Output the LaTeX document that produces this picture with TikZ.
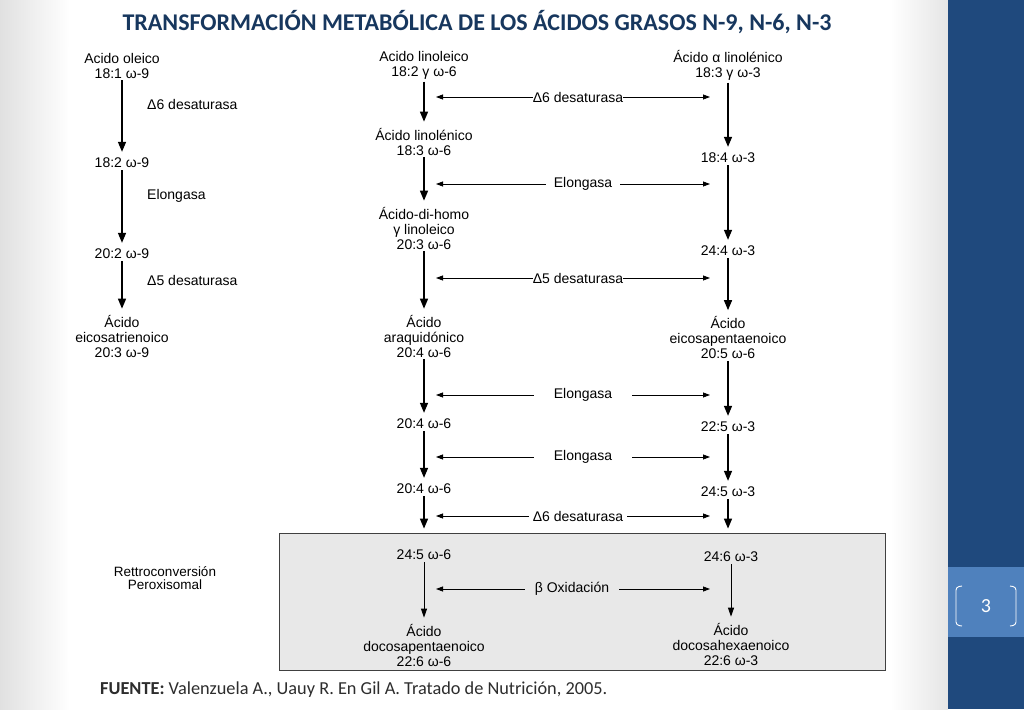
\documentclass[tikz,border=0pt]{standalone}
\usepackage{fontspec}
\setmainfont{Liberation Sans}
\newfontfamily\slidefont{Carlito}
\usetikzlibrary{arrows.meta}
\definecolor{titulo}{RGB}{23,55,94}
\definecolor{barra}{RGB}{31,73,125}
\definecolor{numbox}{RGB}{79,129,189}
\definecolor{caja}{RGB}{232,232,232}
\definecolor{pie}{RGB}{45,45,45}
\tikzstyle{tx}=[inner sep=2pt, align=center, font=\fontsize{14}{15}\selectfont]
\tikzstyle{enz}=[inner ysep=1pt, inner xsep=0pt, fill=white, font=\fontsize{14}{15}\selectfont]
\tikzstyle{fl}=[line width=1.4pt, shorten >=4pt, -{Triangle[length=10pt,width=8pt]}]
\tikzstyle{fli}=[line width=0.9pt, shorten >=4pt, -{Triangle[length=9pt,width=6pt]}]
\tikzstyle{dfl}=[line width=0.8pt, -{Triangle[length=7pt,width=5pt]}]

\begin{document}
\begin{tikzpicture}[x=1pt,y=-1pt]
\useasboundingbox (0,0) rectangle (1024,709);
\fill[white] (0,0) rectangle (1024,709);
\shade[left color=black!12, right color=white] (0,0) rectangle (70,709);
\shade[left color=white, right color=black!10] (890,0) rectangle (948,709);
\fill[white] (68,47) rectangle (890,672);
\fill[barra] (948,0) rectangle (1024,709);
\fill[numbox] (948,567) rectangle (1024,637);
\draw[white, line width=0.9pt, rounded corners=3pt] (962,586)--(956,587)--(956,625)--(962,626);
\draw[white, line width=0.9pt, rounded corners=3pt] (1010,586)--(1016,587)--(1016,625)--(1010,626);
\draw (986,606) node[text=white, font=\slidefont\fontsize{20}{24}\selectfont](pag) {3};

\draw (477,22) node[text=titulo, font=\slidefont\bfseries\fontsize{24}{28}\selectfont](titulo) {TRANSFORMACIÓN METABÓLICA DE LOS ÁCIDOS GRASOS N-9, N-6, N-3};
\draw (100,690) node[anchor=west, inner sep=0, text=pie, font=\slidefont\fontsize{18.3}{22}\selectfont](fuente) {\textbf{FUENTE:} Valenzuela A., Uauy R. En Gil A. Tratado de Nutrición, 2005.};

\draw (582,601.5) node[draw=black!75, fill=caja, line width=0.8pt, minimum width=606pt, minimum height=137pt, inner sep=0](rp) {};
\draw (165,578) node[align=center, font=\fontsize{13.5}{12.5}\selectfont](retro) {Rettroconversión\\Peroxisomal};

\draw (122,65.5) node[tx](l1) {Acido oleico\\18:1 ω-9};
\draw (122,163) node[tx](l2) {18:2 ω-9};
\draw (122,254) node[tx](l3) {20:2 ω-9};
\draw (122,336) node[tx](l4) {Ácido\\eicosatrienoico\\20:3 ω-9};
\draw (145,104) node[tx, anchor=west](la) {Δ6 desaturasa};
\draw (145,196) node[tx, anchor=west](lb) {Elongasa};
\draw (145,280) node[tx, anchor=west](lc) {Δ5 desaturasa};
\draw[fl] (l1)--(l2);
\draw[fl] (l2)--(l3);
\draw[fl] (l3)--(l4);

\draw (424,65.5) node[tx](m1) {Acido linoleico\\18:2 γ ω-6};
\draw (424,141.5) node[tx](m2) {Ácido linolénico\\18:3 ω-6};
\draw (424,228) node[tx](m3) {Ácido-di-homo\\γ linoleico\\20:3 ω-6};
\draw (424,336) node[tx](m4) {Ácido\\araquidónico\\20:4 ω-6};
\draw (424,424) node[tx](m5) {20:4 ω-6};
\draw (424,489) node[tx](m6) {20:4 ω-6};
\draw (424,555) node[tx](m7) {24:5 ω-6};
\draw (424,645) node[tx](m8) {Ácido\\docosapentaenoico\\22:6 ω-6};
\foreach \x/\y in {1/2,2/3,3/4,4/5,5/6}
	\draw[fl] (m\x)--(m\y);
\draw[fl] (m6)--(m6 |- rp.north);
\draw[fli] (m7)--(m8);

\draw (728,65.5) node[tx](r1) {Ácido α linolénico\\18:3 γ ω-3};
\draw (728,158) node[tx](r2) {18:4 ω-3};
\draw (728,251) node[tx](r3) {24:4 ω-3};
\draw (728,337.5) node[tx](r4) {Ácido\\eicosapentaenoico\\20:5 ω-6};
\draw (728,427) node[tx](r5) {22:5 ω-3};
\draw (728,492) node[tx](r6) {24:5 ω-3};
\draw (731,557) node[tx](r7) {24:6 ω-3};
\draw (731,644) node[tx](r8) {Ácido\\docosahexaenoico\\22:6 ω-3};
\foreach \x/\y in {1/2,2/3,3/4,4/5,5/6}
	\draw[fl] (r\x)--(r\y);
\draw[fl] (r6)--(r6 |- rp.north);
\draw[fli] (r7)--(r8);

\coordinate (hl) at (436,0);
\coordinate (hr) at (710,0);
\draw (578,97) node[enz](e1) {Δ6 desaturasa};
\draw (583,184) node[enz, inner xsep=8pt](e2) {Elongasa};
\draw (578,278) node[enz](e3) {Δ5 desaturasa};
\draw (583,395) node[enz, inner xsep=20pt](e4) {Elongasa};
\draw (583,457) node[enz, inner xsep=20pt](e5) {Elongasa};
\draw (578,516) node[enz, inner xsep=4pt](e6) {Δ6 desaturasa};
\draw (572,589) node[enz, fill=caja, inner xsep=10pt](e7) {β Oxidación};
\foreach \e in {1,...,7}
	{\draw[dfl] (e\e.west)--(e\e -| hl);
	\draw[dfl] (e\e.east)--(e\e -| hr);}
\end{tikzpicture}
\end{document}
